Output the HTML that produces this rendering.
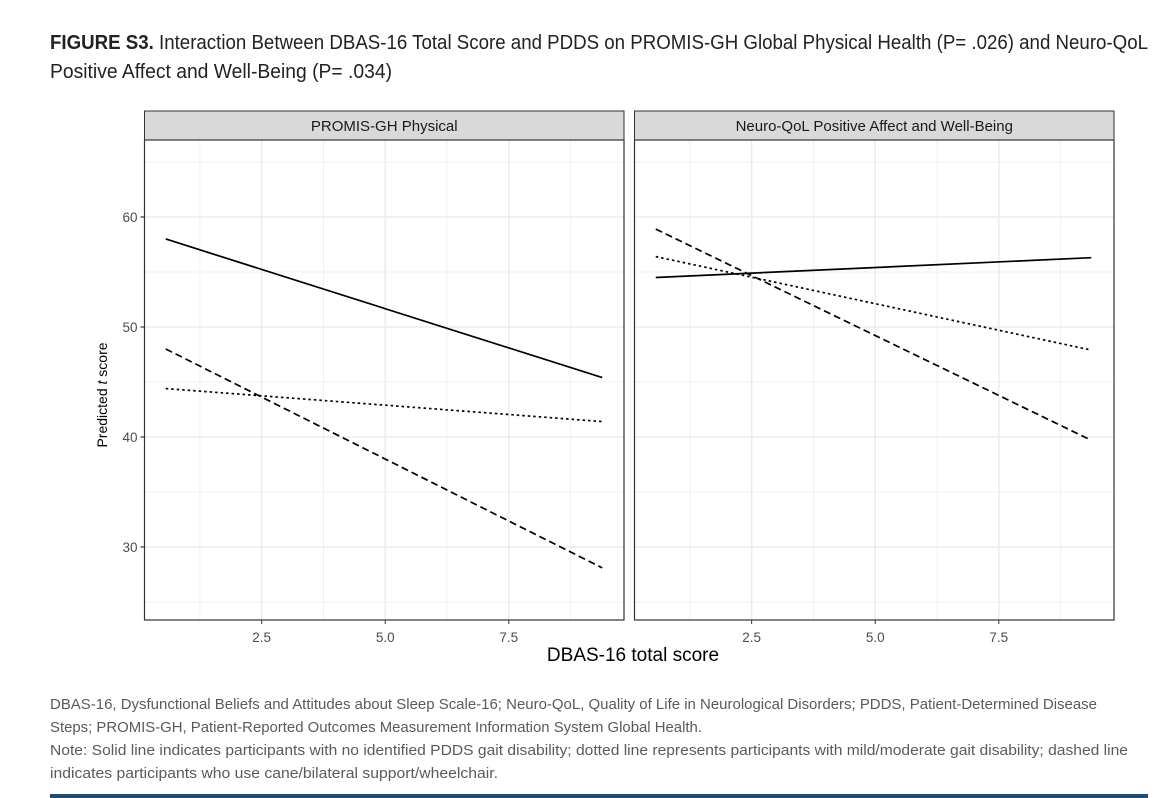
<!DOCTYPE html>
<html><head><meta charset="utf-8"><style>
html,body{margin:0;padding:0;background:#fff;width:1166px;height:798px;overflow:hidden}
svg{display:block}
</style></head><body>
<svg id="fig" width="1166" height="798" viewBox="0 0 1166 798">
<g font-family="'Liberation Sans Narrow','Liberation Sans',sans-serif" font-size="20" fill="#222">
<text x="50" y="49" textLength="1098" lengthAdjust="spacingAndGlyphs"><tspan font-weight="bold">FIGURE S3.</tspan> Interaction Between DBAS-16 Total Score and PDDS on PROMIS-GH Global Physical Health (P= .026) and Neuro-QoL</text>
<text x="50" y="78" textLength="342" lengthAdjust="spacingAndGlyphs">Positive Affect and Well-Being (P= .034)</text>
</g>
<g id="panels"></g>
<text transform="translate(107,395) rotate(-90)" text-anchor="middle" font-family="'Liberation Sans',sans-serif" font-size="14" fill="#000">Predicted <tspan font-style="italic">t</tspan> score</text>
<text x="633" y="661" text-anchor="middle" font-family="'Liberation Sans',sans-serif" font-size="19" fill="#000">DBAS-16 total score</text>
<g font-family="'Liberation Sans Narrow','Liberation Sans',sans-serif" font-size="15" fill="#5a5a5a">
<text x="50" y="709" textLength="1047" lengthAdjust="spacingAndGlyphs">DBAS-16, Dysfunctional Beliefs and Attitudes about Sleep Scale-16; Neuro-QoL, Quality of Life in Neurological Disorders; PDDS, Patient-Determined Disease</text>
<text x="50" y="732" textLength="652" lengthAdjust="spacingAndGlyphs">Steps; PROMIS-GH, Patient-Reported Outcomes Measurement Information System Global Health.</text>
<text x="50" y="755" textLength="1078" lengthAdjust="spacingAndGlyphs">Note: Solid line indicates participants with no identified PDDS gait disability; dotted line represents participants with mild/moderate gait disability; dashed line</text>
<text x="50" y="778" textLength="448" lengthAdjust="spacingAndGlyphs">indicates participants who use cane/bilateral support/wheelchair.</text>
</g>
<rect x="50" y="794" width="1098" height="4" fill="#1b4f7a"/>
</svg>
<script>
const panelTitles = ["PROMIS-GH Physical", "Neuro-QoL Positive Affect and Well-Being"];
const seriesNames = ["no-disability", "mild-moderate", "cane-support"];
const xStart = [0.56, 0.56];
const xEnd = [9.39, 9.37];
const solidStartEnd = [[58.0, 45.4], [54.5, 56.3]];
const dottedStartEnd = [[44.4, 41.4], [56.4, 47.9]];
const dashedStartEnd = [[48.0, 28.1], [58.9, 39.7]];
const xTicks = [2.5, 5.0, 7.5];
const xTickLabels = ["2.5", "5.0", "7.5"];
const yTicks = [30, 40, 50, 60];
const yTickLabels = ["30", "40", "50", "60"];

const NS = "http://www.w3.org/2000/svg";
const panelsG = document.getElementById("panels");
const panelLefts = [144.5, 634.5], panelW = 479.5, plotTop = 140, plotBottom = 620;
const xMin = 0.13, xMax = 9.83, yMin = 23.36, yMax = 67;
function mk(tag, attrs, parent) { const e = document.createElementNS(NS, tag); for (const k in attrs) e.setAttribute(k, attrs[k]); parent.appendChild(e); return e; }

panelTitles.forEach((title, p) => {
  const L = panelLefts[p];
  const xs = v => L + (v - xMin) / (xMax - xMin) * panelW;
  const ys = v => plotBottom - (v - yMin) / (yMax - yMin) * (plotBottom - plotTop);
  const pg = mk("g", {}, panelsG);
  
  
  const strip = mk("rect", {x: L, y: 111, width: panelW, height: 29, fill: "#d9d9d9", stroke: "#333", "stroke-width": 1}, pg);
  
  
  const st = mk("text", {x: L + panelW / 2, y: 131, "text-anchor": "middle", "font-family": "'Liberation Sans',sans-serif", "font-size": 15, fill: "#1a1a1a"}, pg);
  st.textContent = title;
  
  
  const minorX = [1.25, 3.75, 6.25, 8.75], minorY = [25, 35, 45, 55, 65];
  minorX.forEach(v => mk("line", {x1: xs(v), x2: xs(v), y1: plotTop, y2: plotBottom, stroke: "#f0f0f0", "stroke-width": 1}, pg));
  minorY.forEach(v => mk("line", {x1: L, x2: L + panelW, y1: ys(v), y2: ys(v), stroke: "#f0f0f0", "stroke-width": 1}, pg));
  xTicks.forEach((v, i) => {
    mk("line", {x1: xs(v), x2: xs(v), y1: plotTop, y2: plotBottom, stroke: "#ebebeb", "stroke-width": 1.5}, pg);
    mk("line", {x1: xs(v), x2: xs(v), y1: plotBottom, y2: plotBottom + 4, stroke: "#333", "stroke-width": 1}, pg);
    const t = mk("text", {x: xs(v), y: plotBottom + 22, "text-anchor": "middle", "font-family": "'Liberation Sans',sans-serif", "font-size": 13.5, fill: "#4d4d4d"}, pg);
    t.textContent = xTickLabels[i];
    
    
  });
  yTicks.forEach((v, i) => {
    mk("line", {x1: L, x2: L + panelW, y1: ys(v), y2: ys(v), stroke: "#ebebeb", "stroke-width": 1.5}, pg);
    if (p === 0) {
      mk("line", {x1: L - 4, x2: L, y1: ys(v), y2: ys(v), stroke: "#333", "stroke-width": 1.2}, pg);
      const t = mk("text", {x: L - 7, y: ys(v) + 5, "text-anchor": "end", "font-family": "'Liberation Sans',sans-serif", "font-size": 13.5, fill: "#4d4d4d"}, pg);
      t.textContent = yTickLabels[i];
      
      
    }
  });
  const border = mk("rect", {x: L, y: plotTop, width: panelW, height: plotBottom - plotTop, fill: "none", stroke: "#333", "stroke-width": 1.2}, pg);
  
  
  const sets = [[solidStartEnd, ""], [dottedStartEnd, "2.5,3"], [dashedStartEnd, "7,4"]];
  sets.forEach(([arr, dash], s) => {
    const ln = mk("line", {x1: xs(xStart[p]), x2: xs(xEnd[p]), y1: ys(arr[p][0]), y2: ys(arr[p][1]), stroke: "#000", "stroke-width": 1.7}, pg);
    if (dash) ln.setAttribute("stroke-dasharray", dash);
    
    
  });
});
</script>
</body></html>
